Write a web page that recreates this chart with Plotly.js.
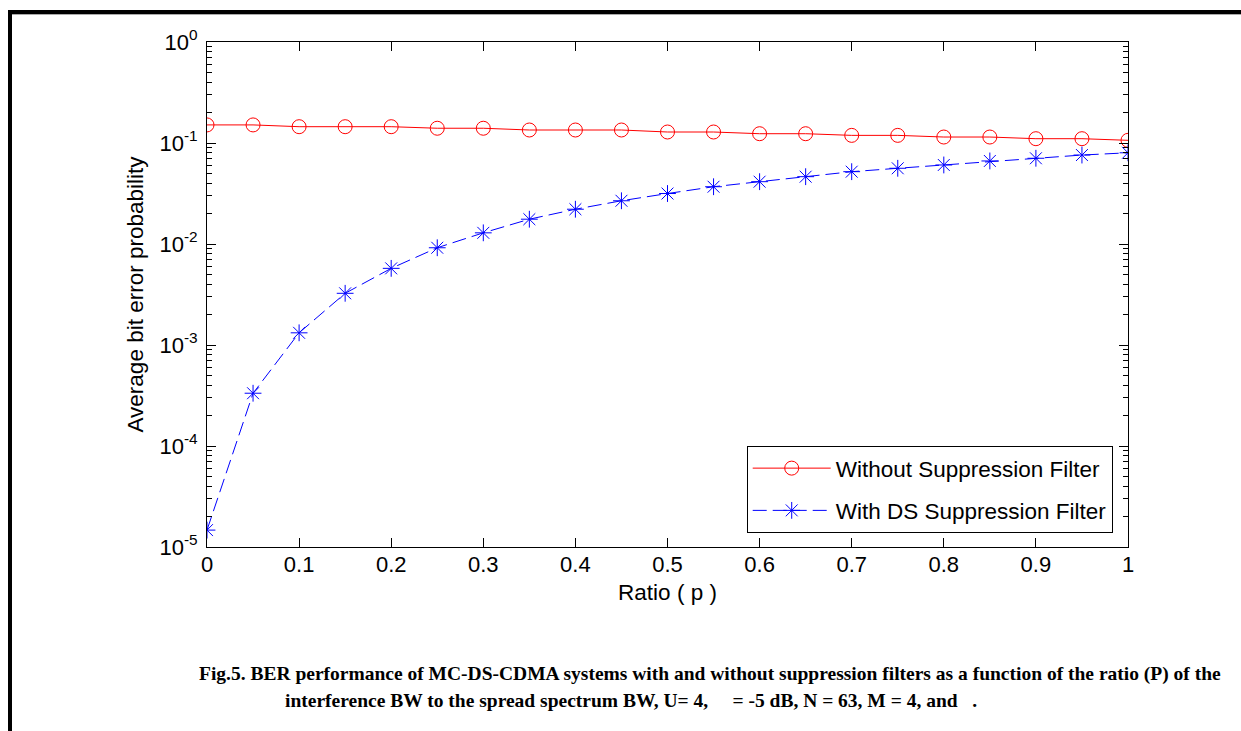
<!DOCTYPE html>
<html>
<head>
<meta charset="utf-8">
<script src="https://cdn.plot.ly/plotly-3.0.1.min.js"></script>
<style>
  html, body { margin: 0; padding: 0; background: #fff; }
  #chart { position: absolute; left: 0; top: 0; width: 1241px; height: 731px; }
  #frame { position: absolute; left: 8px; top: 10px; right: 0; bottom: 0;
           border-top: 4px solid #000; border-left: 4px solid #000; pointer-events: none; z-index: 5; }
  #frame2 { position: absolute; left: 12px; top: 14px; right: 0; height: 0;
            border-top: 1px solid #aaa; pointer-events: none; z-index: 5; }
</style>
</head>
<body>
<div id="chart"></div>
<div id="frame"></div>
<div id="frame2"></div>
<script>
// ---- data ----
const ratio = [0, 0.05, 0.1, 0.15, 0.2, 0.25, 0.3, 0.35, 0.4, 0.45, 0.5,
               0.55, 0.6, 0.65, 0.7, 0.75, 0.8, 0.85, 0.9, 0.95, 1.0];
const berWithout = [0.151, 0.151, 0.145, 0.145, 0.145, 0.140, 0.140, 0.1345, 0.1345, 0.1345, 0.1285,
                    0.1285, 0.1236, 0.1236, 0.119, 0.119, 0.1146, 0.1146, 0.1103, 0.1103, 0.1063];
const berWithDS = [1.47e-5, 3.33e-4, 1.32e-3, 3.25e-3, 5.74e-3, 9.18e-3, 0.0129, 0.0176, 0.0221, 0.0268, 0.0316,
                   0.0369, 0.0414, 0.0464, 0.052, 0.0562, 0.0606, 0.0664, 0.0706, 0.076, 0.080];
const seriesNames = ['Without Suppression Filter', 'With DS Suppression Filter'];
const xTickVals = [0, 0.1, 0.2, 0.3, 0.4, 0.5, 0.6, 0.7, 0.8, 0.9, 1];
const xTickText = ['0', '0.1', '0.2', '0.3', '0.4', '0.5', '0.6', '0.7', '0.8', '0.9', '1'];
const yTickVals = [1e-5, 1e-4, 1e-3, 1e-2, 1e-1, 1];
const yTickText = ['10<sup>-5</sup>', '10<sup>-4</sup>', '10<sup>-3</sup>', '10<sup>-2</sup>', '10<sup>-1</sup>', '10<sup>0</sup>'];
const yMinorVals = [];
for (const d of [1e-5, 1e-4, 1e-3, 1e-2, 1e-1]) {
  for (const m of [2, 3, 4, 5, 6, 7, 8, 9]) yMinorVals.push(m * d);
}
const xTitle = 'Ratio ( p )';
const yTitle = 'Average bit error probability';
const caption1 = 'Fig.5. BER performance of MC-DS-CDMA systems with and without suppression filters as a function of the ratio (P) of the';
const caption2 = 'interference BW to the spread spectrum BW, U= 4,\u00a0\u00a0\u00a0\u00a0\u00a0= -5 dB, N = 63, M = 4, and\u00a0\u00a0\u00a0.';

const sans = 'Liberation Sans, Arial, sans-serif';
const serif = 'Liberation Serif, Times New Roman, serif';

const traces = [
  {
    x: ratio, y: berWithout, name: seriesNames[0], type: 'scatter', mode: 'lines+markers',
    legendgroup: 'a',
    line: { color: '#ff0000', width: 1 },
    marker: { symbol: 'circle-open', size: 14, color: '#ff0000', line: { width: 1, color: '#ff0000' } }
  },
  {
    x: ratio, y: berWithDS, name: seriesNames[1], type: 'scatter', mode: 'lines+markers',
    legendgroup: 'b',
    line: { color: '#0000ff', width: 1, dash: '14px,6px' },
    marker: { symbol: 'asterisk-open', size: 14, color: '#0000ff', line: { width: 1, color: '#0000ff' } }
  }
];

const axisCommon = {
  showline: true, linecolor: '#000', linewidth: 1, mirror: 'allticks',
  ticks: 'inside', tickcolor: '#000', tickwidth: 1, ticklen: 9,
  showgrid: false, zeroline: false,
  tickfont: { family: sans, size: 22, color: '#000' }
};

const layout = {
  width: 1241, height: 731,
  margin: { l: 207, r: 113, t: 42, b: 184 },
  paper_bgcolor: '#fff', plot_bgcolor: '#fff',
  showlegend: true,
  xaxis: Object.assign({}, axisCommon, {
    range: [0, 1], tickmode: 'array', tickvals: xTickVals, ticktext: xTickText,
    ticklabelstandoff: -2,
    title: { text: xTitle, font: { family: sans, size: 22.5, color: '#000' }, standoff: 7 }
  }),
  yaxis: Object.assign({}, axisCommon, {
    type: 'log', range: [-5, 0], tickmode: 'array', tickvals: yTickVals, ticktext: yTickText,
    ticklabelstandoff: 4,
    minor: { tickmode: 'array', tickvals: yMinorVals, ticks: 'inside', ticklen: 5, tickcolor: '#000', tickwidth: 1, showgrid: false },
    title: { text: yTitle, font: { family: sans, size: 22.5, color: '#000' }, standoff: 9 }
  }),
  legend: {
    x: 0.586, y: 0.2, xanchor: 'left', yanchor: 'top',
    bgcolor: '#fff', bordercolor: '#000', borderwidth: 1,
    font: { family: sans, size: 22.5, color: '#000' },
    itemwidth: 78, traceorder: 'grouped', tracegroupgap: 10
  },
  annotations: [
    { text: caption1, xref: 'paper', yref: 'paper', x: 0.546, y: -0.2515, xanchor: 'center', yanchor: 'middle',
      showarrow: false, font: { family: serif, size: 19.5, color: '#000', weight: 'bold' } },
    { text: caption2, xref: 'paper', yref: 'paper', x: 0.46, y: -0.303, xanchor: 'center', yanchor: 'middle',
      showarrow: false, font: { family: serif, size: 19.5, color: '#000', weight: 'bold' } }
  ]
};

Plotly.newPlot('chart', traces, layout, { displayModeBar: false, staticPlot: true });
</script>
</body>
</html>
